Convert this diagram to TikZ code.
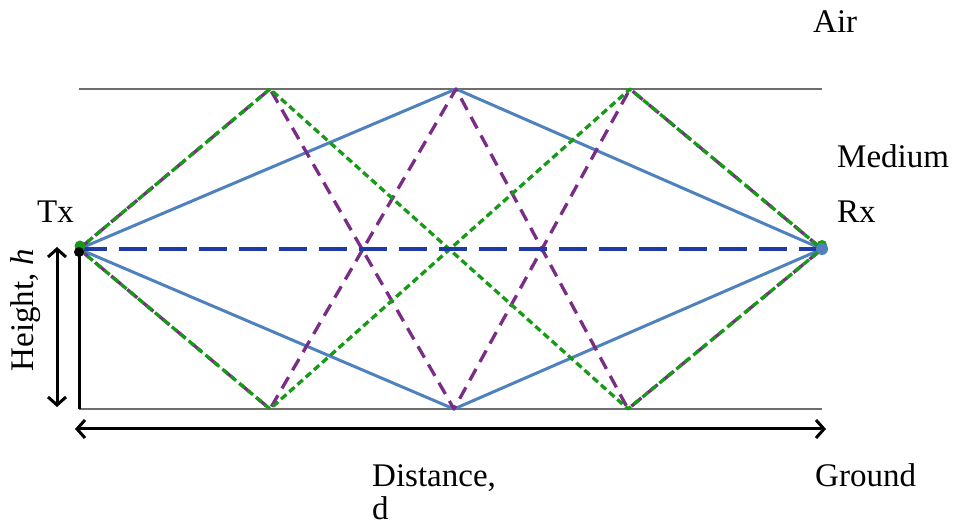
\documentclass[tikz,border=0pt]{standalone}
\usepackage{fontspec}
\setmainfont{Liberation Serif}
\usetikzlibrary{arrows.meta}
\definecolor{rayblue}{HTML}{4F81BD}
\definecolor{raypurple}{HTML}{7B2C86}
\definecolor{raygreen}{HTML}{179B17}
\definecolor{directblue}{HTML}{1F3AA8}
\definecolor{boundgray}{HTML}{6E6E6E}
\begin{document}
\begin{tikzpicture}[x=1pt,y=-1pt,
  lbl/.style={inner sep=0pt,font=\fontsize{33}{36}\selectfont},
  bound/.style={boundgray,line width=2pt},
  solidray/.style={rayblue,line width=3pt,line join=round},
  purpleray/.style={raypurple,line width=3.3pt,dash pattern=on 13pt off 8pt,line join=round},
  greenray/.style={raygreen,line width=3.3pt,dash pattern=on 7pt off 4pt,line join=round},
  directray/.style={directblue,line width=3.6pt,dash pattern=on 28pt off 12pt},
  dimarrow/.style={black,line width=3pt,{Straight Barb[length=8pt,width=18pt]}-{Straight Barb[length=8pt,width=18pt]}},
  dot/.style={circle,inner sep=0pt,minimum size=#1}
]
\useasboundingbox (0,0) rectangle (954,529);
% points
\coordinate (tx) at (79,249);
\coordinate (rx) at (822,249);
\coordinate (t1) at (270,89);
\coordinate (t2) at (456,89);
\coordinate (t3) at (630,89);
\coordinate (b1) at (270,409);
\coordinate (b2) at (454,409);
\coordinate (b3) at (628,409);
\coordinate (topL) at (79,89);
\coordinate (topR) at (822,89);
\coordinate (botL) at (79,409);
\coordinate (botR) at (822,409);
\coordinate (hTop) at (57,247);
\coordinate (hBot) at (57,407);
\coordinate (dL) at (75,429);
\coordinate (dR) at (826,429);
% boundaries
\draw[bound] (topL) -- (topR);
\draw[bound] (botL) -- (botR);
% solid rays
\draw[solidray] (tx) -- (t2) -- (rx);
\draw[solidray] (tx) -- (b2) -- (rx);
% purple rays
\draw[purpleray] (tx) -- (t1) -- (b2) -- (t3) -- (rx);
\draw[purpleray] (tx) -- (b1) -- (t2) -- (b3) -- (rx);
% green rays
\draw[greenray] (tx) -- (t1) -- (b3) -- (rx);
\draw[greenray] (tx) -- (b1) -- (t3) -- (rx);
% direct ray
\draw[directray] (tx) -- (rx);
% height line and arrows
\draw[black,line width=3pt] (tx) -- (botL);
\draw[dimarrow] (hTop) -- (hBot);
\draw[dimarrow] (dL) -- (dR);
% end points
\node[dot=11pt,fill=raygreen] (txg) at (80,246) {};
\node[dot=10pt,fill=black] (txdot) at (79,252) {};
\node[dot=10pt,fill=raygreen] (rxg) at (822,245) {};
\node[dot=12pt,fill=rayblue] (rxdot) at (rx) {};
% labels
\node[lbl,anchor=base west] (air) at (813,33) {Air};
\node[lbl,anchor=base west] (medium) at (837,168) {Medium};
\node[lbl,anchor=base west] (txl) at (37,223) {Tx};
\node[lbl,anchor=base west] (rxl) at (837,223) {Rx};
\node[lbl,anchor=base,rotate=90] (hl) at (33,310) {Height, \textit{h}};
\node[lbl,anchor=base west] (dist) at (372,486) {Distance,};
\node[lbl,anchor=base west] (dl) at (372,519) {d};
\node[lbl,anchor=base west] (ground) at (815,486) {Ground};
\end{tikzpicture}
\end{document}
